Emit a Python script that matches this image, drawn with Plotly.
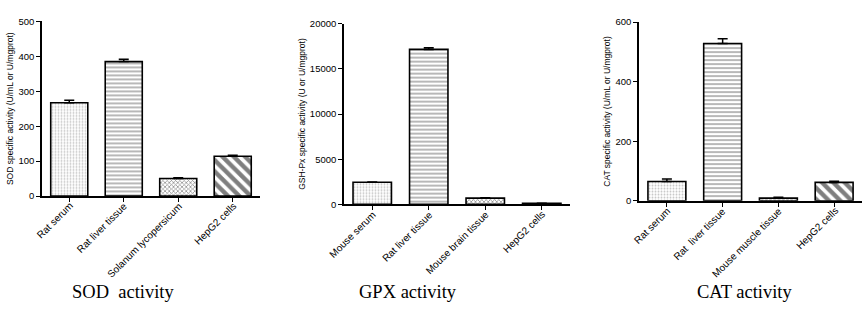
import plotly.graph_objects as go

# ---- data ----
sod_cats = ["Rat serum", "Rat liver tissue", "Solanum lycopersicum", "HepG2 cells"]
sod_vals = [267, 385, 50, 114]
sod_err = [7, 7, 2, 3]

gpx_cats = ["Mouse serum", "Rat liver tissue", "Mouse brain tissue", "HepG2 cells"]
gpx_vals = [2450, 17150, 700, 120]
gpx_err = [40, 170, 40, 20]

cat_cats = ["Rat serum", "Rat  liver tissue", "Mouse muscle tissue", "HepG2 cells"]
cat_vals = [65, 528, 9, 62]
cat_err = [8, 16, 3, 4]

panel_titles = ["SOD\u00a0 activity", "GPX activity", "CAT activity"]
y_titles = ["SOD specific activity (U/mL or U/mgprot)",
            "GSH-Px specific activity (U or U/mgprot)",
            "CAT specific activity (U/mL or U/mgprot)"]
y_ranges = [[0, 500], [0, 20000], [0, 600]]
y_dticks = [100, 5000, 200]

# ---- styling ----
patterns = [
    dict(shape=".", fgcolor="#8a8a8a", bgcolor="white", size=3, solidity=0.3),
    dict(shape="-", fgcolor="#333333", bgcolor="white", size=4, solidity=0.35),
    dict(shape="x", fgcolor="#222222", bgcolor="white", size=3, solidity=0.45),
    dict(shape="\\", fgcolor="black", bgcolor="white", size=8, solidity=0.55),
]
x_domains = [[0.0484, 0.2995], [0.3963, 0.6567], [0.7362, 0.9931]]
y_domains = [[0.3666, 0.9486], [0.3386, 0.9412], [0.3505, 0.9463]]
title_x = [0.1417, 0.470, 0.858]
label_font = dict(family="Liberation Sans, Arial", size=10, color="black")

fig = go.Figure()
datasets = [(sod_cats, sod_vals, sod_err), (gpx_cats, gpx_vals, gpx_err), (cat_cats, cat_vals, cat_err)]
layout = {}
annotations = []
for i, (cats, vals, errs) in enumerate(datasets):
    n = "" if i == 0 else str(i + 1)
    fig.add_trace(go.Bar(
        x=list(range(len(cats))), y=vals,
        xaxis="x" + n, yaxis="y" + n,
        width=0.68,
        marker=dict(color="white", line=dict(color="black", width=1.6),
                    pattern=dict(shape=[p["shape"] for p in patterns],
                                 fgcolor=[p["fgcolor"] for p in patterns],
                                 bgcolor=[p["bgcolor"] for p in patterns],
                                 size=[p["size"] for p in patterns],
                                 solidity=[p["solidity"] for p in patterns])),
        error_y=dict(type="data", array=errs, arrayminus=[0] * len(errs), symmetric=False,
                     color="black", thickness=1.5, width=5),
        showlegend=False,
    ))
    layout["xaxis" + n] = dict(
        domain=x_domains[i], anchor="y" + n, range=[-0.5, 3.5],
        tickmode="array", tickvals=list(range(len(cats))), showticklabels=False,
        ticks="outside", ticklen=4, tickwidth=1.2, tickcolor="black",
        showline=True, linecolor="black", linewidth=1.6, showgrid=False, zeroline=False,
    )
    layout["yaxis" + n] = dict(
        domain=y_domains[i], anchor="x" + n, range=y_ranges[i], dtick=y_dticks[i],
        tickformat="d",
        ticks="outside", ticklen=4, tickwidth=1.2, tickcolor="black",
        showline=True, linecolor="black", linewidth=1.6, showgrid=False, zeroline=False,
        tickfont=dict(family="Liberation Sans, Arial", size=9.5, color="black"),
        title=dict(text=y_titles[i], standoff=3,
                   font=dict(family="Liberation Sans, Arial", size=8.5, color="black")),
    )
    # rotated category labels (45 degrees, ending at each category tick)
    for j, c in enumerate(cats):
        annotations.append(dict(
            text=c.replace("  ", "\u00a0 "), x=j, y=0, xref="x" + n, yref=("y" + n) + " domain",
            xanchor="right", yanchor="top", textangle=-45, showarrow=False,
            xshift=7, yshift=-3, font=label_font, borderpad=0,
        ))

for i, t in enumerate(panel_titles):
    annotations.append(dict(
        text=t, x=title_x[i], y=1 - 296 / 311, xref="paper", yref="paper",
        xanchor="center", yanchor="middle", showarrow=False,
        font=dict(family="Liberation Serif, Times New Roman", size=18.5, color="black")))

fig.update_layout(
    width=868, height=311,
    margin=dict(l=0, r=0, t=0, b=0),
    paper_bgcolor="white", plot_bgcolor="white",
    annotations=annotations,
    **layout,
)
fig.write_html("out.html")
